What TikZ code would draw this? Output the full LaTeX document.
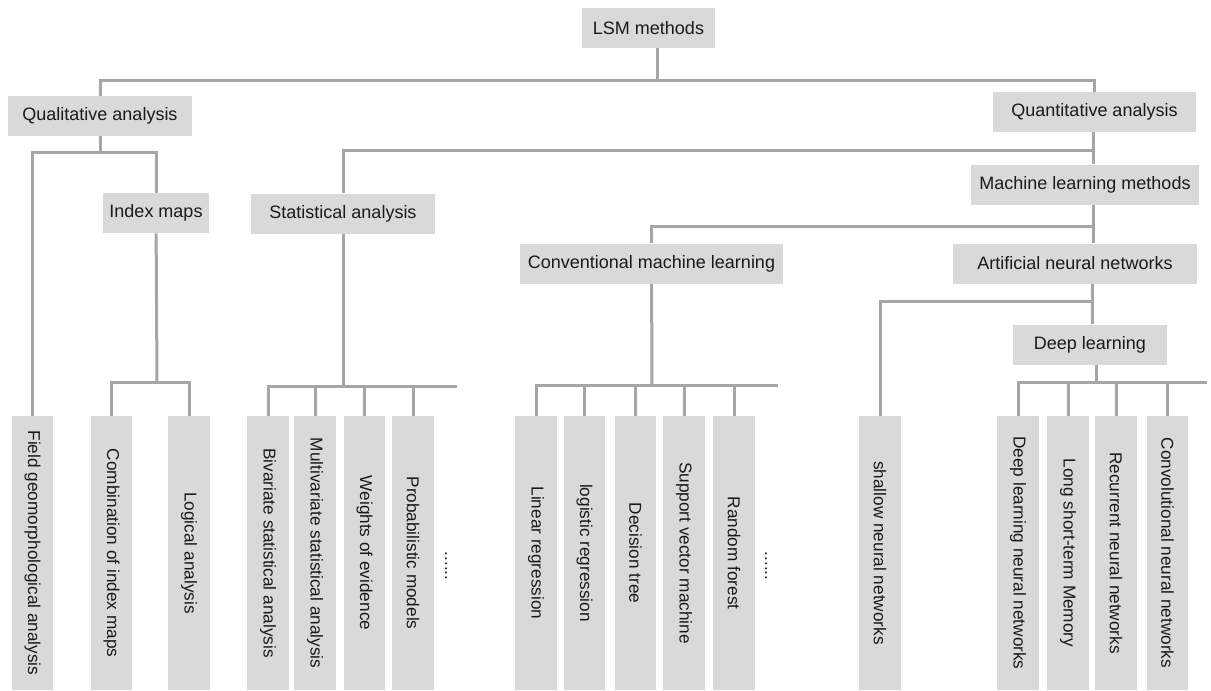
\documentclass[tikz,border=0pt]{standalone}
\usepackage{fontspec}
\setmainfont{Liberation Sans}
\definecolor{boxfill}{HTML}{D9D9D9}
\definecolor{wire}{HTML}{A6A6A6}
\definecolor{ink}{HTML}{1A1A1A}
\tikzset{
  box/.style={fill=boxfill,inner sep=0pt,minimum height=20pt,align=center,text=ink,font=\fontsize{9}{11}\selectfont},
  leaf/.style={box,rotate=-90,minimum width=137pt,minimum height=20.75pt,font=\fontsize{8.6}{10}\selectfont},
  link/.style={draw=wire,line width=1.5pt},
  more/.style={rotate=-90,inner sep=0pt,text=ink,font=\fontsize{8.6}{10}\selectfont},
}
\begin{document}
\begin{tikzpicture}[x=0.5pt,y=-0.5pt]
  \useasboundingbox (0,0) rectangle (1211,691);
  % upper levels
  \node[box,minimum width=66.5pt] (lsm) at (648.5,28) {LSM methods};
  \node[box,minimum width=92pt] (qual) at (100,116) {Qualitative analysis};
  \node[box,minimum width=101.5pt] (quan) at (1094.5,112) {Quantitative analysis};
  \node[box,minimum width=53pt] (index) at (156,213) {Index maps};
  \node[box,minimum width=92pt] (stat) at (343,213.5) {Statistical analysis};
  \node[box,minimum width=114pt] (mlm) at (1085,184.5) {Machine learning methods};
  \node[box,minimum width=131.5pt] (conv) at (651.5,263.5) {Conventional machine learning};
  \node[box,minimum width=122pt] (ann) at (1075,263.5) {Artificial neural networks};
  \node[box,minimum width=77pt] (deep) at (1090,344.5) {Deep learning};
  % leaves
  \node[leaf] (field) at (32.5,553) {Field geomorphological analysis};
  \node[leaf] (comb) at (111.5,553) {Combination of index maps};
  \node[leaf] (logic) at (189,553) {Logical analysis};
  \node[leaf] (biv) at (268,553) {Bivariate statistical analysis};
  \node[leaf] (multi) at (315,553) {Multivariate statistical analysis};
  \node[leaf] (woe) at (364.5,553) {Weights of evidence};
  \node[leaf] (prob) at (413,553) {Probabilistic models};
  \node[more] (statmore) at (446,566) {......};
  \node[leaf] (lin) at (536,553) {Linear regression};
  \node[leaf] (logi) at (584.5,553) {logistic regression};
  \node[leaf] (dt) at (635.5,553) {Decision tree};
  \node[leaf] (svm) at (684,553) {Support vector machine};
  \node[leaf] (rf) at (734,553) {Random forest};
  \node[more] (convmore) at (766,566) {......};
  \node[leaf] (snn) at (880,553) {shallow neural networks};
  \node[leaf] (dlnn) at (1018,553) {Deep learning neural networks};
  \node[leaf] (lstm) at (1068,553) {Long short-term Memory};
  \node[leaf] (rnn) at (1116,553) {Recurrent neural networks};
  \node[leaf] (cnn) at (1167.5,553) {Convolutional neural networks};
  % buses
  \coordinate (b0) at (657,80);
  \coordinate (b1) at (100,152);
  \coordinate (b2) at (1093,150);
  \coordinate (b3) at (1093,226);
  \coordinate (b4) at (1092,301);
  \coordinate (b5) at (1096,382);
  \coordinate (b5end) at (1207,382);
  \coordinate (b6) at (652,385);
  \coordinate (b6end) at (778,385);
  \coordinate (b7) at (343,386);
  \coordinate (b7end) at (457,386);
  \coordinate (b8) at (157,382);
  \draw[link] (lsm.south -| b0) -- (b0);
  \draw[link] (qual) |- (b0) -| (quan);
  \draw[link] (qual) -- (b1);
  \draw[link] (field) |- (b1) -| (index);
  \draw[link] (quan.south -| b2) -- (b2 |- mlm.north);
  \draw[link] (b2) -| (stat);
  \draw[link] (mlm.south -| b3) -- (b3 |- ann.north);
  \draw[link] (b3) -| (conv);
  \draw[link] (ann.south -| b4) -- (b4 |- deep.north);
  \draw[link] (b4) -| (snn);
  \draw[link] (deep.south -| b5) -- (b5);
  \draw[link] (dlnn) |- (b5end);
  \foreach \c in {lstm,rnn,cnn} \draw[link] (\c) -- (\c |- b5);
  \draw[link] (conv) -- (b6);
  \draw[link] (lin) |- (b6end);
  \foreach \c in {logi,dt,svm,rf} \draw[link] (\c) -- (\c |- b6);
  \draw[link] (stat) -- (b7);
  \draw[link] (biv) |- (b7end);
  \foreach \c in {multi,woe,prob} \draw[link] (\c) -- (\c |- b7);
  \draw[link] (index) -- (b8);
  \draw[link] (comb) |- (b8) -| (logic);
\end{tikzpicture}
\end{document}
